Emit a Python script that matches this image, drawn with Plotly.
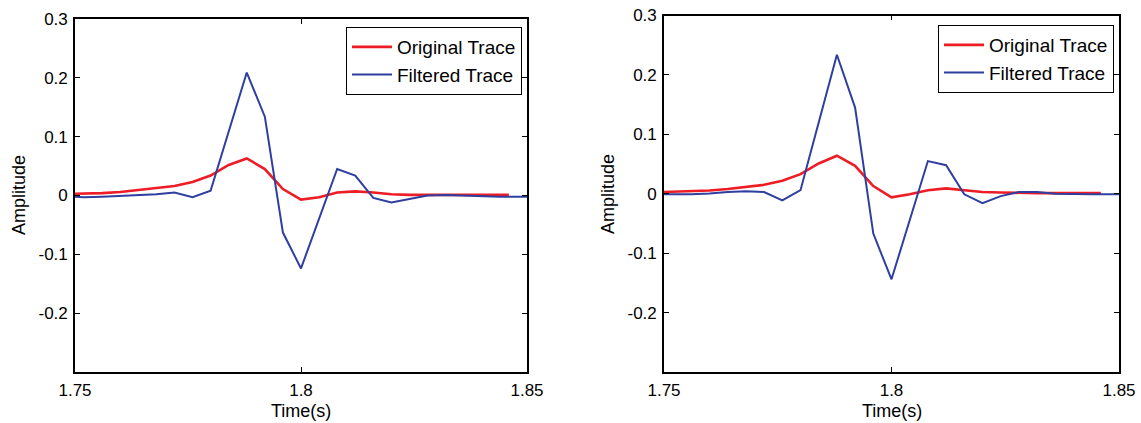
import plotly.graph_objects as go

# ---- data ----
t_filtered = [1.750, 1.752, 1.756, 1.760, 1.764, 1.768, 1.772, 1.776, 1.780, 1.784,
              1.788, 1.792, 1.796, 1.800, 1.804, 1.808, 1.812, 1.816, 1.820, 1.824,
              1.828, 1.832, 1.836, 1.840, 1.844, 1.848, 1.850]
left_filtered = [-0.002, -0.003, -0.002, -0.001, 0.0, 0.002, 0.005, -0.003, 0.008, 0.107,
                 0.209, 0.134, -0.063, -0.124, -0.040, 0.045, 0.034, -0.004, -0.012, -0.006,
                 0.0, 0.001, 0.0, -0.002, -0.002, -0.002, -0.002]
right_filtered = [-0.001, -0.001, -0.001, 0.0005, 0.003, 0.004, 0.003, -0.011, 0.006, 0.120,
                  0.234, 0.145, -0.067, -0.144, -0.045, 0.055, 0.048, -0.001, -0.016, -0.004,
                  0.003, 0.003, 0.0, -0.001, -0.001, -0.001, -0.001]

t_original = [1.750, 1.756, 1.760, 1.764, 1.768, 1.772, 1.776, 1.780, 1.784, 1.788,
              1.792, 1.796, 1.800, 1.804, 1.808, 1.812, 1.816, 1.820, 1.824, 1.828,
              1.832, 1.836, 1.840, 1.846]
left_original = [0.003, 0.004, 0.006, 0.009, 0.012, 0.016, 0.023, 0.034, 0.052, 0.063,
                 0.045, 0.011, -0.007, -0.003, 0.005, 0.007, 0.005, 0.002, 0.001, 0.001,
                 0.001, 0.001, 0.001, 0.001]
right_original = [0.003, 0.004, 0.0055, 0.008, 0.012, 0.015, 0.022, 0.033, 0.051, 0.064,
                  0.047, 0.013, -0.006, -0.001, 0.006, 0.009, 0.006, 0.003, 0.002, 0.001,
                  0.001, 0.001, 0.001, 0.001]

x_tickvals = [1.75, 1.8, 1.85]
x_ticktext = ["1.75", "1.8", "1.85"]
y_tickvals = [-0.2, -0.1, 0, 0.1, 0.2, 0.3]
y_ticktext = ["-0.2", "-0.1", "0", "0.1", "0.2", "0.3"]

RED = "#ee1c25"
BLUE = "#2f3f9f"
FONT = "Liberation Sans, Arial, sans-serif"

fig = go.Figure()
fig.add_trace(go.Scatter(x=t_original, y=left_original, mode="lines", name="Original Trace",
                         line=dict(color=RED, width=2.6), xaxis="x", yaxis="y", legend="legend"))
fig.add_trace(go.Scatter(x=t_filtered, y=left_filtered, mode="lines", name="Filtered Trace",
                         line=dict(color=BLUE, width=2.0), xaxis="x", yaxis="y", legend="legend"))
fig.add_trace(go.Scatter(x=t_original, y=right_original, mode="lines", name="Original Trace",
                         line=dict(color=RED, width=2.6), xaxis="x2", yaxis="y2", legend="legend2"))
fig.add_trace(go.Scatter(x=t_filtered, y=right_filtered, mode="lines", name="Filtered Trace",
                         line=dict(color=BLUE, width=2.0), xaxis="x2", yaxis="y2", legend="legend2"))

W, H = 1141, 423
axis_common = dict(showline=True, linecolor="black", linewidth=1.6, mirror="ticks",
                   ticks="inside", ticklen=5, tickwidth=1.3, tickcolor="black",
                   showgrid=False, zeroline=False, automargin=False, ticklabelstandoff=2,
                   tickfont=dict(family=FONT, size=17, color="black"))

fig.update_layout(
    template="none",
    width=W, height=H,
    margin=dict(l=0, r=0, t=0, b=0, autoexpand=False),
    paper_bgcolor="white", plot_bgcolor="white",
    font=dict(family=FONT, size=17, color="black"),
    xaxis=dict(domain=[75 / W, 527 / W], range=[1.75, 1.85], anchor="y",
               tickvals=x_tickvals, ticktext=x_ticktext, **axis_common),
    yaxis=dict(domain=[1 - 372 / H, 1 - 19 / H], range=[-0.3, 0.3], anchor="x",
               tickvals=y_tickvals, ticktext=y_ticktext, **axis_common),
    xaxis2=dict(domain=[664 / W, 1119 / W], range=[1.75, 1.85], anchor="y2",
                tickvals=x_tickvals, ticktext=x_ticktext, **axis_common),
    yaxis2=dict(domain=[1 - 372 / H, 1 - 15.5 / H], range=[-0.3, 0.3], anchor="x2",
                tickvals=y_tickvals, ticktext=y_ticktext, **axis_common),
    legend=dict(x=522 / W, y=1 - 27 / H, xanchor="right", yanchor="top",
                bgcolor="white", bordercolor="black", borderwidth=1,
                font=dict(family=FONT, size=19, color="black"),
                itemwidth=40, tracegroupgap=0),
    legend2=dict(x=1114 / W, y=1 - 25 / H, xanchor="right", yanchor="top",
                 bgcolor="white", bordercolor="black", borderwidth=1,
                 font=dict(family=FONT, size=19, color="black"),
                 itemwidth=40, tracegroupgap=0),
    showlegend=True,
    annotations=[
        dict(text="Time(s)", x=301 / W, y=1 - 411 / H, xref="paper", yref="paper",
             showarrow=False, xanchor="center", yanchor="middle",
             font=dict(family=FONT, size=18, color="black")),
        dict(text="Time(s)", x=892 / W, y=1 - 411 / H, xref="paper", yref="paper",
             showarrow=False, xanchor="center", yanchor="middle",
             font=dict(family=FONT, size=18, color="black")),
        dict(text="Amplitude", x=19 / W, y=1 - 195 / H, xref="paper", yref="paper",
             showarrow=False, xanchor="center", yanchor="middle", textangle=-90,
             font=dict(family=FONT, size=18, color="black")),
        dict(text="Amplitude", x=608 / W, y=1 - 194 / H, xref="paper", yref="paper",
             showarrow=False, xanchor="center", yanchor="middle", textangle=-90,
             font=dict(family=FONT, size=18, color="black")),
    ],
)

fig.write_html("out.html")
